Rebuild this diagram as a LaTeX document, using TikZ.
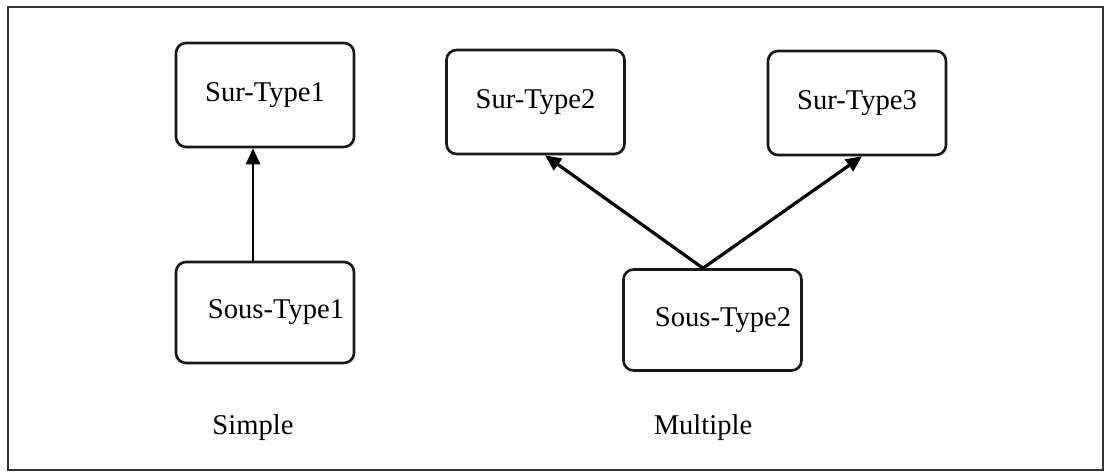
\documentclass[tikz,border=0pt]{standalone}
\usepackage{fontspec}
\setmainfont{Liberation Serif}
\usetikzlibrary{arrows.meta}
\begin{document}
\begin{tikzpicture}[x=0.5pt,y=-0.5pt,
  typebox/.style={draw=black!90, line width=1.3pt, rounded corners=5pt, inner sep=0pt,
    minimum width=89pt, font=\fontsize{14.3}{16}\selectfont},
  surbox/.style={typebox, minimum height=52pt},
  sousbox/.style={typebox, minimum height=50.5pt},
  caption/.style={inner sep=0pt, font=\fontsize{14.3}{16}\selectfont},
  heritage/.style={draw=black, line width=1.3pt, -{Triangle[length=8pt,width=7pt]}},
  heritagex/.style={heritage, line width=1.6pt}]
\useasboundingbox (0,0) rectangle (1109,474);
\fill[white] (0,0) rectangle (1109,474);
\draw[black!80, line width=1pt] (8,7) rectangle (1103,470);
% Simple
\node[surbox] (sur1) at (265,95) {Sur-Type1};
\node[sousbox] (sous1) at (265,312.5) {\hspace*{11pt}Sous-Type1};
\draw[heritage] (sous1.north -| 253,0) -- (sur1.south -| 253,0);
\node[caption] (simple) at (253,428) {Simple};
% Multiple
\node[surbox] (sur2) at (535.5,102) {Sur-Type2};
\node[surbox] (sur3) at (857,103) {Sur-Type3};
\node[sousbox] (sous2) at (712.5,320) {\hspace*{10.5pt}Sous-Type2};
\coordinate (fork) at (sous2.north -| 703,0);
\draw[heritagex] (fork) -- (sur2.south -| 545,0);
\draw[heritagex] (fork) -- (sur3.south -| 862,0);
\node[caption] (multiple) at (703,428) {Multiple};
\end{tikzpicture}
\end{document}
